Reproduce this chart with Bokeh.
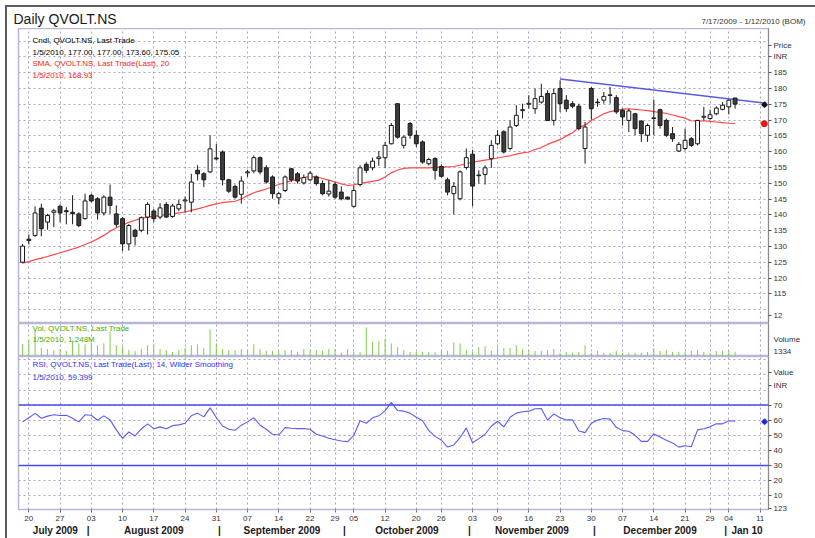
import pandas as pd
from bokeh.plotting import figure
from bokeh.layouts import column
from bokeh.models import Range1d, FixedTicker, LinearAxis, Label, Span
from bokeh.embed import file_html
from bokeh.resources import INLINE

FONT = "Liberation Sans"

# ---------------- data ----------------
holidays = ["2009-09-21", "2009-09-28", "2009-10-02", "2009-10-19",
            "2009-11-02", "2009-12-25", "2009-12-28", "2010-01-01"]
calendar = [d for d in pd.bdate_range("2009-07-17", "2010-01-12")
            if d.strftime("%Y-%m-%d") not in holidays]

opens = [125.0, 132.3, 133.5, 142.1, 137.7, 140.8, 142.7, 141.3, 140.8, 140.3,
         138.8, 146.2, 145.1, 140.6, 145.6, 140.3, 138.8, 130.8, 135.1, 135.1,
         139.3, 141.2, 139.3, 143.3, 139.5, 141.9, 144.4, 144.0, 154.1, 153.0,
         153.6, 158.0, 159.9, 151.1, 149.0, 146.5, 153.3, 153.9, 158.1, 154.9,
         152.0, 145.4, 147.7, 154.6, 153.0, 150.1, 151.1, 152.0, 149.9, 146.6,
         149.6, 147.2, 145.6, 142.7, 149.6, 156.0, 154.9, 157.8, 158.1, 162.5,
         175.2, 162.0, 168.9, 165.2, 163.1, 156.2, 157.8, 155.3, 151.1, 146.7,
         145.1, 155.0, 159.2, 152.6, 152.8, 157.8, 162.5, 166.3, 161.0, 168.3,
         173.0, 175.0, 173.6, 175.7, 178.4, 169.9, 180.0, 176.3, 175.2, 174.4,
         161.0, 180.0, 175.7, 176.3, 177.8, 177.1, 173.1, 169.9, 172.0, 169.7,
         165.2, 170.5, 173.3, 169.9, 165.7, 160.2, 161.0, 164.1, 162.5, 170.9,
         170.5, 172.0, 173.4, 174.2, 177.00]
highs = [130.8, 133.8, 142.7, 143.5, 140.3, 141.9, 143.3, 142.4, 146.2, 140.8,
         146.7, 146.7, 145.6, 146.2, 149.6, 143.0, 139.3, 137.1, 135.6, 139.5,
         144.0, 141.9, 143.7, 144.0, 143.5, 144.8, 145.8, 153.0, 155.7, 153.5,
         165.2, 162.5, 160.4, 151.4, 149.6, 152.2, 154.3, 158.8, 158.5, 155.7,
         152.5, 147.2, 152.5, 154.9, 153.6, 152.8, 153.9, 152.5, 150.9, 150.9,
         150.4, 149.0, 145.8, 149.3, 155.7, 156.7, 158.1, 160.2, 163.1, 169.1,
         175.2, 165.2, 169.4, 166.8, 163.6, 158.1, 158.3, 156.0, 151.8, 150.4,
         154.1, 161.0, 160.6, 154.1, 155.7, 163.6, 166.8, 166.8, 169.9, 174.7,
         175.2, 177.9, 180.0, 181.5, 179.4, 180.0, 182.6, 177.9, 176.0, 175.2,
         169.4, 180.5, 176.8, 178.9, 180.5, 177.9, 173.6, 173.6, 172.3, 169.9,
         168.9, 176.5, 173.6, 170.5, 167.8, 163.1, 167.3, 164.6, 170.1, 174.2,
         173.3, 174.4, 175.7, 176.5, 177.00]
lows = [124.7, 130.6, 133.0, 133.2, 135.3, 136.1, 137.7, 137.0, 137.0, 136.1,
        138.5, 144.0, 138.5, 139.8, 140.3, 136.1, 128.5, 128.7, 130.3, 134.5,
        133.8, 137.7, 138.6, 139.0, 139.1, 141.2, 140.8, 140.8, 150.9, 148.8,
        153.2, 157.2, 149.3, 146.9, 145.1, 143.5, 152.0, 153.2, 152.8, 149.9,
        145.1, 143.3, 147.2, 150.4, 149.9, 149.6, 150.7, 149.3, 146.2, 145.8,
        145.1, 144.6, 144.8, 142.3, 149.0, 153.2, 154.1, 155.5, 154.9, 162.3,
        164.1, 161.0, 164.1, 161.5, 156.2, 155.6, 151.1, 151.8, 146.2, 140.1,
        144.6, 154.3, 142.7, 149.9, 149.6, 154.9, 162.0, 159.4, 160.4, 167.8,
        170.5, 173.6, 172.0, 175.2, 169.7, 168.3, 172.6, 172.6, 173.8, 166.8,
        156.2, 170.1, 174.2, 175.2, 175.2, 172.0, 168.3, 166.2, 165.2, 163.1,
        163.1, 165.2, 167.3, 164.6, 163.1, 159.9, 160.4, 161.5, 162.0, 169.9,
        170.1, 171.5, 173.1, 171.8, 173.60]
closes = [130.1, 131.9, 140.6, 135.6, 139.8, 141.3, 140.6, 141.0, 140.4, 136.6,
          144.4, 144.4, 140.6, 145.6, 143.0, 137.0, 130.8, 136.6, 133.2, 139.1,
          143.3, 138.8, 142.2, 139.3, 142.8, 143.3, 144.7, 150.4, 153.0, 151.1,
          160.9, 157.7, 151.1, 147.5, 145.6, 150.7, 153.6, 158.1, 153.6, 150.4,
          146.7, 146.7, 152.0, 151.1, 150.7, 151.8, 153.2, 149.9, 146.7, 147.5,
          145.6, 145.1, 145.0, 147.7, 154.9, 154.1, 157.0, 158.3, 162.0, 168.3,
          164.6, 164.6, 165.2, 162.5, 156.7, 157.5, 154.1, 152.2, 147.2, 149.0,
          153.6, 158.1, 149.1, 152.4, 154.9, 162.0, 165.2, 159.9, 167.8, 171.5,
          173.3, 175.3, 176.8, 177.5, 169.9, 178.4, 175.2, 173.6, 174.4, 167.3,
          167.8, 173.6, 175.5, 177.5, 178.0, 172.6, 171.0, 172.9, 167.3, 165.7,
          168.3, 170.7, 168.3, 165.2, 164.1, 162.3, 163.6, 162.0, 169.9, 171.2,
          171.7, 173.8, 174.7, 176.3, 175.05]
sma20 = [124.7, 125.2, 125.8, 126.3, 126.8, 127.4, 128.0, 128.6, 129.2, 129.8,
         130.6, 131.4, 132.4, 133.5, 134.8, 135.9, 136.8, 137.6, 138.3, 138.9,
         139.3, 139.5, 139.8, 140.1, 140.3, 140.6, 140.9, 141.4, 141.9, 142.4,
         143.0, 143.5, 143.9, 144.1, 144.3, 145.0, 146.1, 147.0, 147.6, 148.2,
         148.9, 149.6, 150.2, 150.8, 151.3, 151.9, 152.1, 152.0, 151.5, 151.0,
         150.4, 149.8, 149.3, 149.5, 150.0, 150.3, 150.6, 151.0, 152.0, 153.3,
         154.2, 154.7, 154.9, 154.9, 154.9, 154.9, 155.0, 155.1, 155.2, 155.3,
         155.7, 156.2, 156.6, 157.0, 157.3, 157.6, 158.0, 158.4, 158.7, 159.2,
         159.6, 159.9, 160.7, 161.3, 162.3, 163.1, 163.8, 165.0, 166.0, 167.7,
         168.4, 169.9, 170.9, 172.0, 172.7, 173.1, 173.5, 173.6, 173.4, 173.2,
         173.0, 172.7, 172.4, 172.1, 171.6, 171.1, 170.6, 169.8, 169.7, 169.8,
         169.6, 169.4, 169.2, 169.0, 168.93]
volume_k = [3250, 4500, 7000, 2250, 2000, 1750, 2000, 1500, 4250, 3500,
            3250, 3750, 3000, 3500, 6750, 3000, 2500, 1750, 1500, 2000,
            3000, 3250, 2000, 1750, 1250, 1750, 2250, 3000, 3250, 2250,
            7250, 3500, 2000, 1750, 1750, 2000, 1750, 3250, 2000, 1500,
            1500, 1500, 1750, 1750, 1250, 2000, 1750, 1750, 1500, 2000,
            2000, 1000, 2000, 1250, 1250, 7750, 4000, 4000, 4750, 3500,
            2500, 1750, 1250, 1250, 1250, 1250, 1250, 1500, 1500, 3750,
            3500, 1750, 1250, 2500, 2750, 1500, 2750, 2250, 2250, 3000,
            2000, 1750, 1500, 1500, 1750, 2000, 1000, 1250, 1000, 1250,
            3000, 1000, 1500, 1000, 1000, 1500, 1000, 1000, 1000, 1000,
            1250, 2250, 1500, 1750, 1250, 1250, 1250, 1500, 1750, 1250,
            1000, 1500, 1500, 1500, 1248]
rsi14 = [58.9, 61.6, 64.5, 61.3, 62.7, 63.6, 63.1, 63.3, 61.3, 58.9,
         63.6, 63.3, 60.0, 62.9, 60.2, 53.6, 48.0, 52.2, 49.6, 54.2,
         57.6, 54.4, 55.6, 54.4, 56.4, 56.9, 58.0, 62.9, 64.7, 62.2,
         68.2, 61.8, 56.2, 54.0, 53.3, 56.7, 58.9, 61.6, 56.7, 54.0,
         50.7, 50.2, 55.1, 54.7, 54.4, 54.4, 54.0, 50.7, 49.6, 48.0,
         47.1, 46.2, 45.8, 50.0, 59.6, 58.0, 61.6, 62.9, 66.2, 71.8,
         66.4, 66.0, 64.7, 62.0, 59.6, 53.1, 49.3, 46.9, 42.2, 43.6,
         48.4, 54.9, 45.1, 47.8, 50.7, 56.0, 59.3, 55.6, 62.0, 64.7,
         65.6, 66.0, 67.6, 67.8, 60.0, 64.2, 61.6, 60.2, 60.2, 52.9,
         51.8, 58.0, 60.2, 61.1, 60.7, 55.3, 53.1, 52.7, 50.0, 46.0,
         46.0, 50.9, 48.9, 46.7, 44.9, 42.2, 43.1, 42.4, 53.6, 54.4,
         55.6, 57.6, 57.6, 59.6, 59.399]
trend_dates = ["2009-11-23", "2010-01-12"]
trend_values = [183.0, 175.3]
price_ticks = [108, 115, 120, 125, 130, 135, 140, 145, 150, 155, 160, 165, 170,
               175, 180, 185, 190, 193.7]
price_tick_text = {108: "12", 190: "INR", 193.7: "Price"}
price_grid = list(range(110, 200, 5))
vol_ticks = [1300, 4650]
vol_tick_text = {1300: "1334", 4650: "Volume"}
rsi_ticks = [1.5, 10, 20, 30, 40, 50, 60, 70, 82.9, 91.7]
rsi_tick_text = {1.5: "123", 82.9: "INR", 91.7: "Value"}
rsi_grid = list(range(0, 101, 10))
rsi_bands = [70, 30]
month_labels = ["July 2009", "August 2009", "September 2009", "October 2009",
                "November 2009", "December 2009", "Jan 10"]

# ---------------- derived positions ----------------
n = len(closes)
idx = list(range(n))
date_str = [d.strftime("%Y-%m-%d") for d in calendar]
week_ticks, week_labels = [], {}
for k in range(1, len(calendar)):
    if calendar[k].isocalendar()[1] != calendar[k - 1].isocalendar()[1]:
        week_ticks.append(k)
        week_labels[k] = calendar[k].strftime("%d")

X0, X1 = -0.65, 119.35
month_spans = []
for k, d in enumerate(calendar):
    key = d.strftime("%Y-%m")
    if not month_spans or month_spans[-1][0] != key:
        month_spans.append([key, k, k])
    else:
        month_spans[-1][2] = k
month_ticks, month_over = [], {}
for m, (key, a, b) in enumerate(month_spans):
    lo = max(a - 0.5, X0) if m > 0 else a
    hi = min(b + 0.5, X1)
    c = round((lo + hi) / 2, 2)
    month_ticks.append(c)
    month_over[c] = month_labels[m]
    if m > 0:
        month_ticks.append(a - 0.5)
        month_over[a - 0.5] = "|"

trend_x = [date_str.index(t) for t in trend_dates]

xr = Range1d(X0, X1)
GRID = "#a4a4c8"
OUTLINE = "#b8b8d6"
W = 808


def base(height, yr, xloc=None, yloc="right"):
    f = figure(width=W, height=height, x_range=xr, y_range=yr, output_backend="svg",
               toolbar_location=None, x_axis_location=xloc, y_axis_location=yloc,
               min_border_left=11, min_border_right=47, min_border_top=0,
               min_border_bottom=0)
    f.outline_line_color = OUTLINE
    f.outline_line_width = 1.5
    f.xgrid.ticker = FixedTicker(ticks=week_ticks)
    f.grid.grid_line_color = GRID
    f.grid.grid_line_dash = "2 3"
    f.grid.grid_line_width = 1
    return f


def style_y(ax, ticks, over, tick_color="#555555"):
    ax.ticker = FixedTicker(ticks=ticks)
    ax.major_label_overrides = over
    ax.axis_line_color = "#8a8a8a"
    ax.major_tick_line_color = tick_color
    ax.major_tick_out = 3
    ax.major_tick_in = 0
    ax.minor_tick_line_color = None
    ax.major_label_text_font = FONT
    ax.major_label_text_font_size = "8px"
    ax.major_label_text_color = "#333333"
    ax.major_label_standoff = 2


def txt(fig, x, y, text, color="#000000", size="8px", align="left",
        font=FONT, x_units="screen", y_units="screen"):
    fig.add_layout(Label(x=x, y=y, x_units=x_units, y_units=y_units, text=text,
                         text_color=color, text_font_size=size, text_align=align,
                         text_baseline="middle", text_font=font))


last = calendar[n - 1]
last_s = f"{last.month}/{last.day}/{last.year}"
first_s = f"{calendar[0].month}/{calendar[0].day}/{calendar[0].year}"
end_s = f"{calendar[-1].month}/{calendar[-1].day}/{calendar[-1].year}"

# ---------------- header ----------------
h = figure(width=W, height=21, x_range=Range1d(0, W), y_range=Range1d(0, 21),
           output_backend="svg", toolbar_location=None, x_axis_location=None,
           y_axis_location=None, min_border=0)
h.frame_align = False
h.outline_line_color = None
h.grid.visible = False
txt(h, 6, 9.5, "Daily QVOLT.NS", color="#1a1a1a", size="14px")
txt(h, 798, 7.3, f"{first_s} - {end_s} (BOM)", color="#333333", align="right")

# ---------------- price panel ----------------
p = base(295, Range1d(105.6, 199.0))
style_y(p.yaxis[0], price_ticks, price_tick_text)
p.ygrid.ticker = FixedTicker(ticks=price_grid)

p.line(trend_x, trend_values, line_color="#5a5ae0", line_width=1.5)
p.line(idx, sma20, line_color="#ff4848", line_width=1.2)
p.segment(x0=idx, y0=lows, x1=idx, y1=highs, line_color="#1a1a1a", line_width=1)
up = [i for i in idx if closes[i] >= opens[i]]
dn = [i for i in idx if closes[i] < opens[i]]
p.vbar(x=up, width=0.62, top=[closes[i] for i in up], bottom=[opens[i] for i in up],
       fill_color="white", line_color="#1a1a1a", line_width=1)
p.vbar(x=dn, width=0.62, top=[opens[i] for i in dn], bottom=[closes[i] for i in dn],
       fill_color="#3c3c3c", line_color="#1a1a1a", line_width=1)

FH = 295
txt(p, 14, FH - 12, "Cndl, QVOLT.NS, Last Trade")
txt(p, 14, FH - 24, f"{last_s}, {opens[-1]:.2f}, {highs[-1]:.2f}, {lows[-1]:.2f}, {closes[-1]:.2f}")
txt(p, 14, FH - 35, "SMA, QVOLT.NS, Last Trade(Last),  20", color="#ff2020")
txt(p, 14, FH - 47, f"{last_s}, {sma20[-1]:.2f}", color="#ff2020")
txt(p, 746, closes[-1], "\u25c6", color="#111111", size="9px", align="center",
    font="DejaVu Sans", y_units="data")
txt(p, 746, sma20[-1], "\u25cf", color="#ee1111", size="9px", align="center",
    font="DejaVu Sans", y_units="data")

# ---------------- volume panel ----------------
v = base(33, Range1d(0, 8800))
style_y(v.yaxis[0], vol_ticks, vol_tick_text, tick_color=None)
v.ygrid.visible = False
v.segment(x0=idx, y0=[0] * n, x1=idx, y1=volume_k, line_color="#7fcc4c", line_width=1)
txt(v, 14, 28, "Vol, QVOLT.NS, Last Trade", color="#44b000")
txt(v, 14, 17, f"{last_s}, {volume_k[-1] / 1000:.3f}M", color="#44b000")

# ---------------- RSI panel ----------------
RH = 152
r = base(182, Range1d(102.2 - RH / 1.5, 102.2), xloc="below")
style_y(r.yaxis[0], rsi_ticks, rsi_tick_text)
r.ygrid.ticker = FixedTicker(ticks=rsi_grid)
for lvl in rsi_bands:
    r.add_layout(Span(location=lvl, dimension="width", line_color="#4848e8", line_width=1.5))
r.line(idx, rsi14, line_color="#5c5cf5", line_width=1.1)

xa = r.xaxis[0]
xa.ticker = FixedTicker(ticks=week_ticks)
xa.major_label_overrides = week_labels
xa.axis_line_color = None
xa.major_tick_line_color = "#777777"
xa.major_tick_out = 3
xa.major_tick_in = 0
xa.minor_tick_line_color = None
xa.major_label_text_font = FONT
xa.major_label_text_font_size = "8px"
xa.major_label_text_color = "#333333"
xa.major_label_standoff = 3

ma = LinearAxis(ticker=FixedTicker(ticks=month_ticks), major_label_overrides=month_over)
ma.axis_line_color = None
ma.major_tick_line_color = None
ma.major_tick_out = 0
ma.major_tick_in = 0
ma.minor_tick_line_color = None
ma.major_label_text_font = FONT
ma.major_label_text_font_size = "10px"
ma.major_label_text_font_style = "bold"
ma.major_label_text_color = "#1a1a1a"
ma.major_label_standoff = 1
r.add_layout(ma, "below")

txt(r, 14, RH - 7, "RSI, QVOLT.NS, Last Trade(Last),  14, Wilder Smoothing", color="#3030f0")
txt(r, 14, RH - 20, f"{last_s}, {rsi14[-1]:.3f}", color="#3030f0")
txt(r, 746, rsi14[-1], "\u25c6", color="#2020f0", size="9px", align="center",
    font="DejaVu Sans", y_units="data")

layout = column(h, p, v, r, margin=(5, 0, 0, 5),
                styles={"border-top": "2px solid #5c5c5c",
                        "border-left": "2px solid #5c5c5c"})
open("out.html", "w").write(file_html(layout, INLINE))
